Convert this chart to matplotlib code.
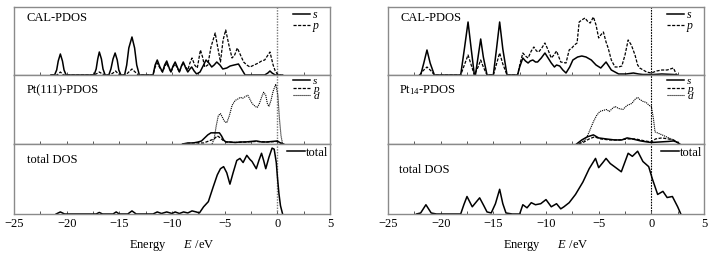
import matplotlib
matplotlib.use("Agg")
import matplotlib.pyplot as plt
from matplotlib.ticker import MultipleLocator

plt.rcParams['font.family'] = ['Liberation Serif', 'DejaVu Serif']
plt.rcParams['mathtext.fontset'] = 'custom'
plt.rcParams['mathtext.rm'] = 'Liberation Serif'
plt.rcParams['mathtext.it'] = 'Liberation Serif:italic'
plt.rcParams['font.size'] = 9

# ---------------- data (energy in eV, DOS in arbitrary units) ----------------
# Left: Pt(111)
L_cal_s = [(-21.5, 0), (-21.15, 0), (-20.95, 5), (-20.8, 14), (-20.6, 21), (-20.4, 14), (-20.25, 5), (-20.05, 0),
           (-17.5, 0), (-17.4, 0), (-17.2, 6), (-17.05, 16), (-16.9, 23), (-16.7, 16), (-16.55, 6), (-16.35, 0),
           (-16.0, 0), (-15.8, 6), (-15.6, 16), (-15.4, 22), (-15.2, 15), (-15.05, 5), (-14.85, 0),
           (-14.5, 0), (-14.3, 10), (-14.1, 27), (-13.8, 38), (-13.55, 27), (-13.35, 10), (-13.1, 0),
           (-11.8, 0), (-11.6, 10), (-11.4, 15), (-11.15, 8), (-10.9, 3), (-10.7, 10), (-10.5, 14), (-10.3, 8),
           (-10.1, 3), (-9.9, 9), (-9.7, 13), (-9.5, 8), (-9.3, 3), (-9.1, 9), (-8.93, 13), (-8.7, 7), (-8.5, 3),
           (-8.3, 6), (-8.13, 8), (-7.9, 4), (-7.66, 1), (-7.34, 3), (-7.0, 10), (-6.77, 15), (-6.5, 12),
           (-6.23, 8), (-6.0, 10), (-5.75, 13), (-5.45, 10), (-5.18, 6), (-4.8, 7), (-4.48, 9), (-4.1, 10),
           (-3.69, 11), (-3.4, 6), (-3.06, 0), (-1.2, 0), (-0.9, 2), (-0.7, 4), (-0.5, 2), (-0.2, 0), (0.5, 0)]
L_cal_p = [(-21.5, 0), (-20.9, 0), (-20.6, 3), (-20.3, 0), (-17.5, 0), (-17.2, 1), (-16.9, 3), (-16.6, 1), (-16.3, 0),
           (-15.9, 0), (-15.6, 2), (-15.35, 4), (-15.1, 1), (-14.8, 0), (-14.4, 0), (-14.1, 3), (-13.8, 6), (-13.5, 3),
           (-13.2, 0), (-11.8, 0), (-11.6, 8), (-11.4, 12), (-11.15, 7), (-10.9, 3), (-10.7, 8), (-10.5, 12),
           (-10.3, 7), (-10.1, 3), (-9.9, 8), (-9.7, 11), (-9.5, 7), (-9.3, 3), (-9.1, 9), (-8.93, 12), (-8.7, 8),
           (-8.5, 5), (-8.3, 12), (-8.1, 17), (-7.85, 10), (-7.6, 7), (-7.3, 25), (-7.1, 18), (-6.9, 8), (-6.6, 10),
           (-6.3, 28), (-5.9, 42), (-5.7, 30), (-5.4, 13), (-5.15, 35), (-4.9, 45), (-4.6, 30), (-4.3, 17),
           (-4.05, 20), (-3.8, 27), (-3.5, 20), (-3.2, 13), (-2.9, 10), (-2.6, 8), (-2.2, 10), (-1.8, 12),
           (-1.5, 14), (-1.2, 15), (-0.95, 19), (-0.7, 23), (-0.4, 10), (-0.2, 4), (0.0, 1), (0.3, 0)]
L_pt_s = [(-9.0, 0), (-8.5, 1), (-8.0, 1), (-7.5, 2), (-7.2, 3), (-6.9, 6), (-6.6, 9), (-6.3, 11), (-5.9, 11),
          (-5.5, 11), (-5.3, 8), (-5.1, 4), (-4.9, 2), (-4.5, 2), (-4.0, 1.5), (-3.5, 2), (-3.0, 2), (-2.5, 2.5),
          (-2.0, 3), (-1.5, 2), (-1.0, 2), (-0.5, 2.5), (0.0, 3), (0.3, 1), (0.6, 0)]
L_pt_p = [(-9.0, 0), (-8.0, 1), (-7.0, 1), (-6.5, 3), (-6.0, 5), (-5.7, 8), (-5.4, 6), (-5.1, 3), (-4.8, 2),
          (-4.0, 1.5), (-3.0, 2), (-2.0, 2.5), (-1.0, 2), (0.0, 2.5), (0.3, 1), (0.6, 0)]
L_pt_d = [(-6.2, 0), (-6.0, 5), (-5.8, 18), (-5.6, 28), (-5.4, 30), (-5.2, 26), (-5.0, 22), (-4.8, 21),
          (-4.55, 28), (-4.3, 38), (-4.0, 43), (-3.8, 44), (-3.5, 46), (-3.3, 45), (-3.0, 47), (-2.8, 48),
          (-2.6, 44), (-2.4, 40), (-2.1, 37), (-1.9, 36), (-1.7, 40), (-1.5, 46), (-1.3, 51), (-1.1, 48),
          (-0.95, 40), (-0.8, 37), (-0.6, 43), (-0.4, 52), (-0.15, 59), (0.05, 48), (0.2, 25), (0.35, 8), (0.5, 0)]
L_total = [(-21.0, 0), (-20.6, 2), (-20.2, 0), (-17.2, 0), (-16.9, 1.5), (-16.6, 0), (-15.6, 0), (-15.3, 2),
           (-15.0, 0), (-14.2, 0), (-13.8, 3), (-13.4, 0), (-11.8, 0), (-11.4, 2), (-11.0, 0.5), (-10.5, 2),
           (-10.0, 0.5), (-9.7, 2), (-9.3, 0.5), (-8.9, 2), (-8.5, 1), (-8.1, 3), (-7.7, 2), (-7.4, 1), (-7.0, 7),
           (-6.55, 12), (-6.1, 26), (-5.7, 38), (-5.4, 44), (-5.1, 46), (-4.8, 40), (-4.5, 29), (-4.2, 40),
           (-3.85, 52), (-3.55, 54), (-3.25, 50), (-2.9, 57), (-2.6, 53), (-2.4, 51), (-2.0, 44), (-1.75, 52),
           (-1.5, 59), (-1.3, 52), (-1.1, 44), (-0.8, 55), (-0.5, 64), (-0.3, 63), (-0.1, 50), (0.0, 37),
           (0.15, 20), (0.3, 8), (0.5, 0)]

# Right: Pt14
R_cal_s = [(-22.0, 0), (-21.9, 0), (-21.6, 12), (-21.3, 25), (-21.0, 12), (-20.6, 0),
           (-18.2, 0), (-18.1, 0), (-17.75, 26), (-17.4, 53), (-17.1, 26), (-16.8, 0),
           (-16.7, 0), (-16.45, 18), (-16.2, 36), (-15.95, 18), (-15.6, 0),
           (-15.1, 0), (-15.0, 0), (-14.7, 26), (-14.4, 53), (-14.1, 26), (-13.7, 0),
           (-12.7, 0), (-12.5, 8), (-12.2, 17), (-11.95, 14), (-11.7, 12), (-11.5, 14), (-11.25, 15), (-11.0, 13),
           (-10.8, 13), (-10.45, 17), (-10.1, 22), (-9.8, 17), (-9.5, 12), (-9.2, 8), (-9.0, 10), (-8.7, 9),
           (-8.4, 5), (-8.1, 2), (-7.75, 8), (-7.45, 15), (-7.0, 18), (-6.6, 19), (-6.2, 18), (-5.7, 15),
           (-5.25, 10), (-4.8, 7), (-4.55, 10), (-4.3, 13), (-4.05, 9), (-3.8, 5), (-3.1, 1), (-2.4, 1),
           (-1.7, 2), (-1.2, 1), (-0.8, 0.5), (0.2, 0.5), (1.0, 1), (2.1, 0.5), (2.5, 0)]
R_cal_p = [(-22.0, 0), (-21.7, 4), (-21.3, 8), (-20.9, 4), (-20.6, 0),
           (-18.1, 0), (-17.75, 10), (-17.4, 20), (-17.1, 10), (-16.8, 0), (-16.45, 8), (-16.2, 15), (-15.95, 8),
           (-15.6, 0), (-15.0, 0), (-14.7, 11), (-14.4, 22), (-14.1, 11), (-13.7, 0),
           (-12.7, 0), (-12.45, 12), (-12.2, 22), (-11.95, 19), (-11.7, 17), (-11.4, 24), (-11.15, 28),
           (-10.9, 24), (-10.7, 23), (-10.4, 27), (-10.1, 32), (-9.8, 25), (-9.5, 17), (-9.25, 20), (-9.0, 24),
           (-8.6, 13), (-8.1, 12), (-7.8, 25), (-7.55, 27), (-7.3, 30), (-7.05, 32), (-6.85, 53), (-6.6, 55),
           (-6.3, 57), (-6.0, 53), (-5.8, 52), (-5.5, 58), (-5.25, 50), (-5.0, 37), (-4.8, 40), (-4.55, 43),
           (-4.3, 33), (-4.1, 27), (-3.8, 15), (-3.45, 8), (-3.1, 8), (-2.8, 9), (-2.5, 20), (-2.2, 35),
           (-1.9, 30), (-1.55, 20), (-1.3, 10), (-1.1, 7), (-0.45, 3), (0.0, 2), (0.5, 4), (1.0, 5), (1.5, 5),
           (2.1, 7), (2.4, 0)]
R_pt_s = [(-7.1, 0), (-6.6, 4), (-6.1, 7), (-5.5, 9), (-5.0, 6), (-4.3, 5), (-3.5, 4), (-2.8, 4), (-2.3, 6),
          (-1.8, 5), (-1.0, 3), (-0.4, 2), (0.0, 1.5), (0.8, 2), (1.6, 2.5), (2.1, 3), (2.4, 2), (2.7, 0)]
R_pt_p = [(-6.9, 0), (-6.4, 2), (-5.9, 5), (-5.4, 7), (-4.8, 5), (-4.0, 4), (-3.0, 4), (-2.3, 5), (-1.5, 5),
          (-0.6, 3), (0.0, 2), (0.4, 5), (1.0, 6), (1.6, 5), (2.1, 4), (2.7, 0)]
R_pt_d = [(-7.1, 0), (-6.6, 2), (-6.2, 5), (-5.9, 12), (-5.5, 22), (-5.2, 28), (-4.9, 32), (-4.6, 33),
          (-4.25, 34), (-4.0, 32), (-3.7, 35), (-3.45, 37), (-3.1, 35), (-2.7, 34), (-2.3, 38), (-1.85, 40),
          (-1.55, 44), (-1.3, 46), (-1.1, 44), (-0.8, 42), (-0.5, 41), (-0.2, 38), (0.0, 37), (0.2, 25),
          (0.35, 12), (0.8, 10), (1.45, 7), (2.1, 4), (2.7, 0)]
R_total = [(-22.3, 0), (-21.9, 1), (-21.4, 9), (-20.9, 1), (-20.4, 0), (-18.1, 0), (-17.8, 9), (-17.5, 17),
           (-17.0, 7), (-16.6, 12), (-16.3, 15.7), (-15.9, 8), (-15.6, 2), (-15.2, 1), (-14.8, 10), (-14.4, 24),
           (-14.1, 10), (-13.8, 1), (-13.2, 0), (-12.5, 0), (-12.2, 9), (-11.8, 6), (-11.4, 11), (-11.0, 9),
           (-10.5, 10), (-10.0, 14), (-9.5, 7), (-9.0, 10), (-8.6, 5), (-8.3, 7), (-7.8, 11), (-7.2, 19),
           (-6.5, 31), (-5.9, 44), (-5.3, 54), (-5.0, 45), (-4.6, 50), (-4.3, 54), (-3.9, 49), (-3.5, 46),
           (-2.85, 41), (-2.2, 59), (-1.8, 56), (-1.3, 61), (-0.8, 51), (-0.25, 46), (0.1, 34), (0.6, 19),
           (1.1, 22), (1.5, 16), (2.0, 17), (2.5, 7), (2.8, 0)]

xticks = [-25, -20, -15, -10, -5, 0, 5]
panel_titles_left = ['CAL-PDOS', 'Pt(111)-PDOS', 'total DOS']
panel_titles_right = ['CAL-PDOS', 'Pt$_{14}$-PDOS', 'total DOS']

# ---------------- drawing ----------------
W, H = 712, 254
fig = plt.figure(figsize=(W / 100, H / 100), dpi=100)

SPINE = '#8a8a8a'
styles = {
    's': dict(color='black', lw=1.1, ls='-'),
    'p': dict(color='black', lw=0.9, ls=(0, (2.5, 1.2))),
    'd': dict(color='black', lw=0.8, ls=(0, (1, 0.8))),
    'total': dict(color='black', lw=1.1, ls='-'),
}


def px_axes(x0, x1, y0, y1):
    return fig.add_axes([x0 / W, 1 - y1 / H, (x1 - x0) / W, (y1 - y0) / H])


def style_ax(ax, bottom):
    ax.set_xlim(-25, 5)
    ax.set_ylim(0, 68)
    ax.set_yticks([])
    ax.xaxis.set_major_locator(MultipleLocator(5))
    ax.xaxis.set_minor_locator(MultipleLocator(2.5))
    ax.tick_params(axis='x', which='both', direction='in', length=2.5, width=0.7,
                   color='#555555', labelsize=9, pad=3, labelbottom=bottom)
    for sp in ax.spines.values():
        sp.set_color(SPINE)
        sp.set_linewidth(1.0)
    if bottom:
        ax.set_xticks(xticks)
        ax.set_xticklabels([f'\u2212{abs(t)}' if t < 0 else str(t) for t in xticks])
        ax.set_xlabel('Energy      $E$ /eV', fontsize=9, labelpad=6)


def draw(ax, series):
    for key, data in series:
        xs = [p[0] for p in data]
        ys = [p[1] for p in data]
        ax.plot(xs, ys, label=key, **styles[key])


def leg(ax, x, y, spacing, size=9, hl=1.4):
    ax.legend(loc='upper right', bbox_to_anchor=(x, y), frameon=False, borderaxespad=0, borderpad=0,
              handlelength=hl, handletextpad=0.3, labelspacing=spacing,
              prop={'family': 'Liberation Serif', 'style': 'italic', 'size': size})


def leg_total(ax, x, y):
    ax.legend(loc='upper right', bbox_to_anchor=(x, y), frameon=False, borderaxespad=0, borderpad=0,
              handlelength=1.4, handletextpad=0.1, prop={'family': 'Liberation Serif', 'size': 9})


panels = [
    (14, 330, [
        ([('s', L_cal_s), ('p', L_cal_p)], panel_titles_left[0]),
        ([('s', L_pt_s), ('p', L_pt_p), ('d', L_pt_d)], panel_titles_left[1]),
        ([('total', L_total)], panel_titles_left[2]),
    ], dict(color='#777777', lw=1.0, ls=(0, (1, 1))), [0.77, 0.77]),
    (388, 704, [
        ([('s', R_cal_s), ('p', R_cal_p)], panel_titles_right[0]),
        ([('s', R_pt_s), ('p', R_pt_p), ('d', R_pt_d)], panel_titles_right[1]),
        ([('total', R_total)], panel_titles_right[2]),
    ], dict(color='black', lw=0.8, ls=(0, (1.5, 1))), [0.77, 0.63]),
]
ybounds = [(7, 75), (75, 144), (144, 214)]

for side, (x0, x1, rows, zstyle, ty) in enumerate(panels):
    for i, (series, title) in enumerate(rows):
        ax = px_axes(x0, x1, *ybounds[i])
        style_ax(ax, bottom=(i == 2))
        ax.axvline(0, zorder=1, **zstyle)
        draw(ax, series)
        if i == 0:
            ax.text(0.04, 0.84, title, transform=ax.transAxes, fontsize=9, va='center', ha='left')
            leg(ax, 0.965, 0.97, -0.05, size=8.5)
        elif i == 1:
            ax.text(0.04 if side == 0 else 0.035, 0.78, title, transform=ax.transAxes, fontsize=9,
                    va='center', ha='left')
            leg(ax, 0.965, 0.98, -0.2, size=8, hl=1.55)
        else:
            ax.text(0.04 if side == 0 else 0.035, ty[side], title, transform=ax.transAxes, fontsize=9,
                    va='center', ha='left')
            leg_total(ax, 0.995, 0.96)

fig.savefig('out.png', dpi=100)
